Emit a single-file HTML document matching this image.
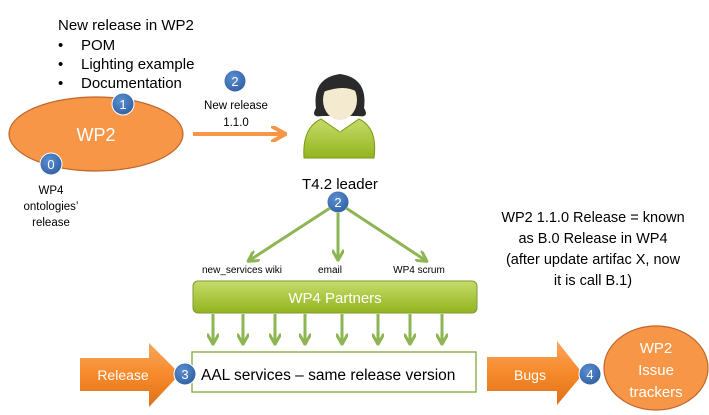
<!DOCTYPE html>
<html><head><meta charset="utf-8"><style>
html,body{margin:0;padding:0;background:#fff;}
svg{display:block;font-family:"Liberation Sans",sans-serif;}
</style></head><body>
<svg width="709" height="415" viewBox="0 0 709 415" xmlns="http://www.w3.org/2000/svg">
<defs>
<linearGradient id="og" x1="0" y1="0" x2="0" y2="1"><stop offset="0" stop-color="#f9a55c"/><stop offset="0.5" stop-color="#f68a2a"/><stop offset="1" stop-color="#e0701a"/></linearGradient>
<linearGradient id="gg" x1="0" y1="0" x2="0" y2="1"><stop offset="0" stop-color="#c5dc6a"/><stop offset="1" stop-color="#93b41e"/></linearGradient>
<radialGradient id="bc" cx="0.4" cy="0.35" r="0.7"><stop offset="0" stop-color="#5b8fd0"/><stop offset="1" stop-color="#2f5fa4"/></radialGradient>
<marker id="ga" viewBox="0 0 10 10" refX="7" refY="5" markerWidth="4" markerHeight="4" orient="auto"><path d="M0,0 L9,5 L0,10" fill="none" stroke="#8db552" stroke-width="2.5"/></marker>
<marker id="oa" viewBox="0 0 10 10" refX="8" refY="5" markerWidth="4" markerHeight="4" orient="auto"><path d="M0,0 L9,5 L0,10" fill="none" stroke="#f79646" stroke-width="2.5"/></marker>
</defs>
<g font-size="15" fill="#000">
<text x="58" y="30">New release in WP2</text>
<text x="58" y="50">•</text><text x="81" y="50">POM</text>
<text x="58" y="69">•</text><text x="81" y="69">Lighting example</text>
<text x="58" y="88">•</text><text x="81" y="88">Documentation</text>
</g>
<ellipse cx="96" cy="134" rx="87" ry="37" fill="#f79646" stroke="#c0662a" stroke-width="1.2"/>
<text x="96" y="141" font-size="18" fill="#fff" text-anchor="middle">WP2</text>
<g font-size="13" fill="#fff" text-anchor="middle">
<circle cx="123" cy="104" r="11" fill="url(#bc)" stroke="#fff" stroke-width="1"/><text x="123" y="109">1</text>
<circle cx="51" cy="164" r="11" fill="url(#bc)" stroke="#fff" stroke-width="1"/><text x="51" y="169">0</text>
<circle cx="235" cy="81" r="11" fill="url(#bc)" stroke="#fff" stroke-width="1"/><text x="235" y="86">2</text>
<circle cx="338" cy="202" r="11" fill="url(#bc)" stroke="#fff" stroke-width="1"/><text x="338" y="207">2</text>
</g>
<g font-size="11.5" fill="#000" text-anchor="middle">
<text x="51" y="194">WP4</text><text x="51" y="210">ontologies’</text><text x="51" y="226">release</text>
<text x="236" y="109">New release</text><text x="236" y="126">1.1.0</text>
</g>
<line x1="193" y1="134" x2="284" y2="134" stroke="#f79646" stroke-width="4" marker-end="url(#oa)"/>
<path d="M304,158 Q302,128 321,119 L340,132 L359,119 Q378,128 374,158 Z" fill="url(#gg)" stroke="#7d9a14"/>
<path d="M329,117 L340,132 L351,117 Z" fill="#fff"/>
<path d="M316,108 Q312,78 340,74 Q368,78 364,108 Q370,118 358,116 L322,116 Q310,118 316,108Z" fill="#2a2a2a"/>
<ellipse cx="340" cy="100" rx="17" ry="20" fill="#f4ead0"/>
<path d="M323,92 Q326,78 340,79 Q355,78 357,92 Q345,84 323,92Z" fill="#2a2a2a"/>
<text x="340" y="189" font-size="15" text-anchor="middle">T4.2 leader</text>
<g stroke="#8db552" stroke-width="3" marker-end="url(#ga)">
<line x1="330" y1="208" x2="250" y2="260"/>
<line x1="338" y1="213" x2="338" y2="258"/>
<line x1="346" y1="208" x2="425" y2="260"/>
</g>
<g font-size="10" text-anchor="middle"><text x="242" y="273">new_services wiki</text><text x="330" y="273">email</text><text x="419" y="273">WP4 scrum</text></g>
<rect x="193" y="281" width="284" height="32" rx="5" fill="url(#gg)" stroke="#7d9a3a"/>
<text x="335" y="303" font-size="15" fill="#fff" text-anchor="middle">WP4 Partners</text>
<g stroke="#8db552" stroke-width="3" marker-end="url(#ga)">
<line x1="213" y1="314" x2="213" y2="342"/><line x1="243" y1="314" x2="243" y2="342"/>
<line x1="275" y1="314" x2="275" y2="342"/><line x1="305" y1="314" x2="305" y2="342"/>
<line x1="342" y1="314" x2="342" y2="342"/><line x1="378" y1="314" x2="378" y2="342"/>
<line x1="410" y1="314" x2="410" y2="342"/><line x1="442" y1="314" x2="442" y2="342"/>
</g>
<rect x="192" y="352" width="284" height="40" fill="#fff" stroke="#8db552" stroke-width="1.5"/>
<text x="201" y="380" font-size="15.5">AAL services – same release version</text>
<path d="M80,358 L149,358 L149,343 L180,374 L149,407 L149,391 L80,391 Z" fill="url(#og)"/>
<text x="123" y="380" font-size="14" fill="#fff" text-anchor="middle">Release</text>
<path d="M487,357 L557,357 L557,341 L583,374 L557,405 L557,391 L487,391 Z" fill="url(#og)"/>
<text x="530" y="380" font-size="14" fill="#fff" text-anchor="middle">Bugs</text>
<ellipse cx="656" cy="368" rx="52" ry="42" fill="#f79646" stroke="#c0662a" stroke-width="1.2"/>
<g font-size="15" fill="#fff" text-anchor="middle"><text x="656" y="353">WP2</text><text x="656" y="375">Issue</text><text x="656" y="397">trackers</text></g>
<g font-size="13" fill="#fff" text-anchor="middle">
<circle cx="185" cy="374" r="11" fill="url(#bc)" stroke="#fff" stroke-width="1"/><text x="185" y="379">3</text>
<circle cx="590" cy="374" r="11" fill="url(#bc)" stroke="#fff" stroke-width="1"/><text x="590" y="379">4</text>
</g>
<g font-size="14.5" text-anchor="middle">
<text x="593" y="222">WP2 1.1.0 Release = known</text>
<text x="593" y="243">as B.0 Release in WP4</text>
<text x="593" y="264">(after update artifac X, now</text>
<text x="593" y="285">it is call B.1)</text>
</g>
</svg>
</body></html>
